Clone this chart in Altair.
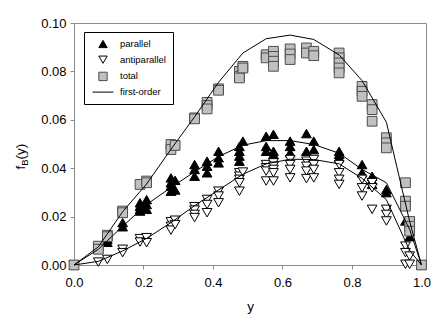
import altair as alt
import pandas as pd

FONT = "Liberation Sans"

# ---- measured points: parallel (filled up-triangles)
par_x = [0.0, 0.07, 0.096, 0.096, 0.14, 0.14, 0.19, 0.19, 0.19, 0.19, 0.209, 0.209, 0.209,
         0.279, 0.279, 0.279, 0.279, 0.291, 0.291, 0.347, 0.347, 0.347, 0.383, 0.383, 0.383,
         0.416, 0.416, 0.416, 0.476, 0.476, 0.476, 0.476, 0.486, 0.553, 0.553, 0.553,
         0.574, 0.574, 0.574, 0.622, 0.622, 0.622, 0.669, 0.669, 0.69, 0.69,
         0.763, 0.763, 0.763, 0.829, 0.829, 0.858, 0.858, 0.858, 0.899, 0.899,
         0.954, 0.966, 0.966, 1.0]
par_y = [0.0, 0.0068, 0.0106, 0.0094, 0.0175, 0.0158, 0.0257, 0.0243, 0.023, 0.0223, 0.027, 0.025, 0.023,
         0.036, 0.034, 0.0326, 0.0305, 0.035, 0.031, 0.0415, 0.0395, 0.0367, 0.0429, 0.0408, 0.0381,
         0.047, 0.0443, 0.0422, 0.049, 0.047, 0.045, 0.0429, 0.0512, 0.0532, 0.049, 0.047,
         0.054, 0.047, 0.0457, 0.0512, 0.049, 0.0464, 0.0543, 0.047, 0.0512, 0.0477,
         0.047, 0.0457, 0.0443, 0.0415, 0.0381, 0.0367, 0.035, 0.0333, 0.0312, 0.0299,
         0.0182, 0.0154, 0.0117, 0.0]

# ---- antiparallel (open down-triangles)
anti_x = [0.0, 0.07, 0.096, 0.14, 0.14, 0.19, 0.19, 0.209, 0.209, 0.279, 0.279, 0.279, 0.291, 0.291,
          0.347, 0.347, 0.347, 0.347, 0.383, 0.383, 0.383, 0.416, 0.416, 0.416,
          0.476, 0.476, 0.476, 0.476, 0.476, 0.486, 0.553, 0.553, 0.553, 0.553,
          0.574, 0.574, 0.574, 0.574, 0.574, 0.622, 0.622, 0.622, 0.622,
          0.669, 0.669, 0.669, 0.669, 0.69, 0.69, 0.69, 0.69,
          0.763, 0.763, 0.763, 0.763, 0.829, 0.829, 0.829, 0.858, 0.858, 0.858,
          0.899, 0.899, 0.899, 0.954, 0.954, 0.954, 0.966, 0.966, 1.0]
anti_y = [0.0, 0.0012, 0.0023, 0.0065, 0.0051, 0.0109, 0.0095, 0.0113, 0.0092, 0.0179, 0.016, 0.0144, 0.0185, 0.0167,
          0.0241, 0.0227, 0.0209, 0.0196, 0.0271, 0.025, 0.0216, 0.0305, 0.0285, 0.0257,
          0.0381, 0.0367, 0.0354, 0.034, 0.0305, 0.0384, 0.0415, 0.0402, 0.0388, 0.0347,
          0.0422, 0.0408, 0.0395, 0.0381, 0.0347, 0.0436, 0.0415, 0.0395, 0.036,
          0.0429, 0.0408, 0.0388, 0.0357, 0.0436, 0.0415, 0.0395, 0.036,
          0.0415, 0.0381, 0.0354, 0.0333, 0.0354, 0.0319, 0.0285, 0.034, 0.0319, 0.023,
          0.023, 0.0209, 0.0182, 0.0078, 0.0051, 0.0003, 0.0037, 0.0003, 0.0]

# ---- total (grey squares)
tot_x = [0.0, 0.07, 0.07, 0.096, 0.096, 0.14, 0.14, 0.19, 0.209, 0.209, 0.279, 0.279, 0.291,
         0.347, 0.347, 0.383, 0.383, 0.383, 0.416, 0.416, 0.476, 0.476, 0.476, 0.486, 0.486,
         0.553, 0.553, 0.574, 0.574, 0.574, 0.574, 0.622, 0.622, 0.622, 0.669, 0.669, 0.69, 0.69,
         0.763, 0.763, 0.763, 0.763, 0.763, 0.829, 0.829, 0.829, 0.858, 0.858, 0.858,
         0.899, 0.899, 0.899, 0.954, 0.954, 0.954, 0.966, 0.966, 0.966, 1.0]
tot_y = [0.0, 0.0078, 0.0065, 0.0123, 0.0117, 0.0223, 0.0216, 0.0333, 0.0347, 0.034, 0.0498, 0.0477, 0.0494,
         0.0608, 0.0604, 0.0672, 0.0659, 0.0645, 0.0728, 0.0722, 0.08, 0.078, 0.0773, 0.0821, 0.0814,
         0.0869, 0.0856, 0.0883, 0.0862, 0.0842, 0.0821, 0.0893, 0.0872, 0.0849, 0.0897, 0.0876, 0.0883, 0.0865,
         0.0876, 0.0856, 0.0835, 0.0814, 0.0794, 0.0738, 0.0718, 0.0697, 0.0663, 0.0642, 0.0594,
         0.0526, 0.0505, 0.0484, 0.034, 0.0264, 0.0243, 0.018, 0.016, 0.014, 0.0]

# ---- first-order curves
th_x = [0.0, 0.07, 0.14, 0.209, 0.279, 0.347, 0.416, 0.486, 0.553, 0.622, 0.69, 0.763, 0.829, 0.899, 0.966, 1.0]
th_total = [0.0, 0.0075, 0.022, 0.0335, 0.0478, 0.0612, 0.0755, 0.0876, 0.0935, 0.095, 0.0932, 0.0868, 0.0762, 0.059, 0.018, 0.0]
th_par = [0.0, 0.0065, 0.016, 0.025, 0.032, 0.0385, 0.0448, 0.0495, 0.0514, 0.0514, 0.0498, 0.0462, 0.0395, 0.034, 0.0147, 0.0]
th_anti = [0.0, 0.0015, 0.0058, 0.011, 0.0175, 0.0245, 0.031, 0.0375, 0.0418, 0.0437, 0.0436, 0.0418, 0.0358, 0.027, 0.006, 0.0]

series_names = ["parallel", "antiparallel", "total", "first-order"]
x_ticks = [round(i * 0.05, 2) for i in range(21)]
y_ticks = [round(i * 0.005, 3) for i in range(21)]

rows = []
for name, xs, ys in [("parallel", par_x, par_y), ("antiparallel", anti_x, anti_y), ("total", tot_x, tot_y)]:
    for a, b in zip(xs, ys):
        rows.append({"series": name, "yv": a, "f": b})
pts = pd.DataFrame(rows)
pts["ord"] = pts["series"].map({"parallel": 0, "antiparallel": 1, "total": 2})

lrows = []
for name, ys in [("parallel", th_par), ("antiparallel", th_anti), ("total", th_total)]:
    for a, b in zip(th_x, ys):
        lrows.append({"series": name, "yv": a, "f": b})
lines_df = pd.DataFrame(lrows)

AX = "#8c8c8c"
xscale = alt.Scale(domain=[0, 1.013], nice=False, zero=False)
yscale = alt.Scale(domain=[0, 0.1], nice=False)

xaxis = alt.Axis(values=x_ticks,
                 labelExpr="abs(datum.value*5 - round(datum.value*5)) < 0.001 ? format(datum.value, '.1f') : ''",
                 tickSize=4, labelPadding=7, labelFontSize=13, labelFont=FONT, labelColor="black",
                 title="y", titleFontSize=13.5, titleFont=FONT, titleFontWeight="normal", titleColor="black",
                 titlePadding=10, domainColor=AX, tickColor=AX, grid=False, labelFlush=False, labelOverlap=False)
yaxis = alt.Axis(values=y_ticks,
                 labelExpr="abs(datum.value*50 - round(datum.value*50)) < 0.001 ? format(datum.value, '.2f') : ''",
                 tickSize=4, labelPadding=4, labelFontSize=13, labelFont=FONT, labelColor="black",
                 title=None, domainColor=AX, tickColor=AX, grid=False, labelOverlap=False)

legend = alt.Legend(title=None, orient="none", legendX=10, legendY=9, strokeColor="black",
                    fillColor="white", padding=7, symbolOffset=7, labelOffset=12, rowPadding=3.7,
                    labelFontSize=9.5, labelFont=FONT, labelColor="black", symbolSize=70,
                    symbolStrokeWidth=1, symbolOpacity=1, cornerRadius=0)

points = alt.Chart(pts).mark_point(opacity=1, strokeWidth=1).encode(
    x=alt.X("yv:Q", scale=xscale, axis=xaxis),
    y=alt.Y("f:Q", scale=yscale, axis=yaxis),
    shape=alt.Shape("series:N", scale=alt.Scale(domain=series_names,
                    range=["triangle-up", "triangle-down", "square", "M-2.5,0L2.5,0"]), legend=legend),
    fill=alt.Fill("series:N", scale=alt.Scale(domain=series_names,
                  range=["black", "white", "#c0c0c0", "transparent"]), legend=legend),
    stroke=alt.Stroke("series:N", scale=alt.Scale(domain=series_names,
                      range=["black", "black", "#4d4d4d", "black"]), legend=legend),
    size=alt.Size("series:N", scale=alt.Scale(domain=["parallel", "antiparallel", "total"],
                  range=[95, 95, 72]), legend=None),
    order=alt.Order("ord:Q"),
)

lines = alt.Chart(lines_df).mark_line(color="black", strokeWidth=1).encode(
    x=alt.X("yv:Q", scale=xscale),
    y=alt.Y("f:Q", scale=yscale),
    detail="series:N",
)

def ttl(txt, x, y, size):
    return alt.Chart(pd.DataFrame({"t": [txt]})).mark_text(
        angle=270, align="left", baseline="alphabetic", fontSize=size, font=FONT, color="black"
    ).encode(x=alt.value(x), y=alt.value(y), text="t:N")

title_f = ttl("f", -49.5, 146.6, 13.5)
title_b = ttl("B", -46.5, 142.8, 9.5)
title_y = ttl("(y)", -49.5, 136.6, 13.5)

chart = alt.layer(points, lines, title_f, title_b, title_y).properties(
    width=352, height=242,
    autosize=alt.AutoSizeParams(type="none"),
    padding={"left": 66, "top": 15, "right": 9, "bottom": 50},
).configure_view(stroke=AX, strokeWidth=1)

chart.save("out.html", embed_options={"renderer": "svg", "actions": False})
